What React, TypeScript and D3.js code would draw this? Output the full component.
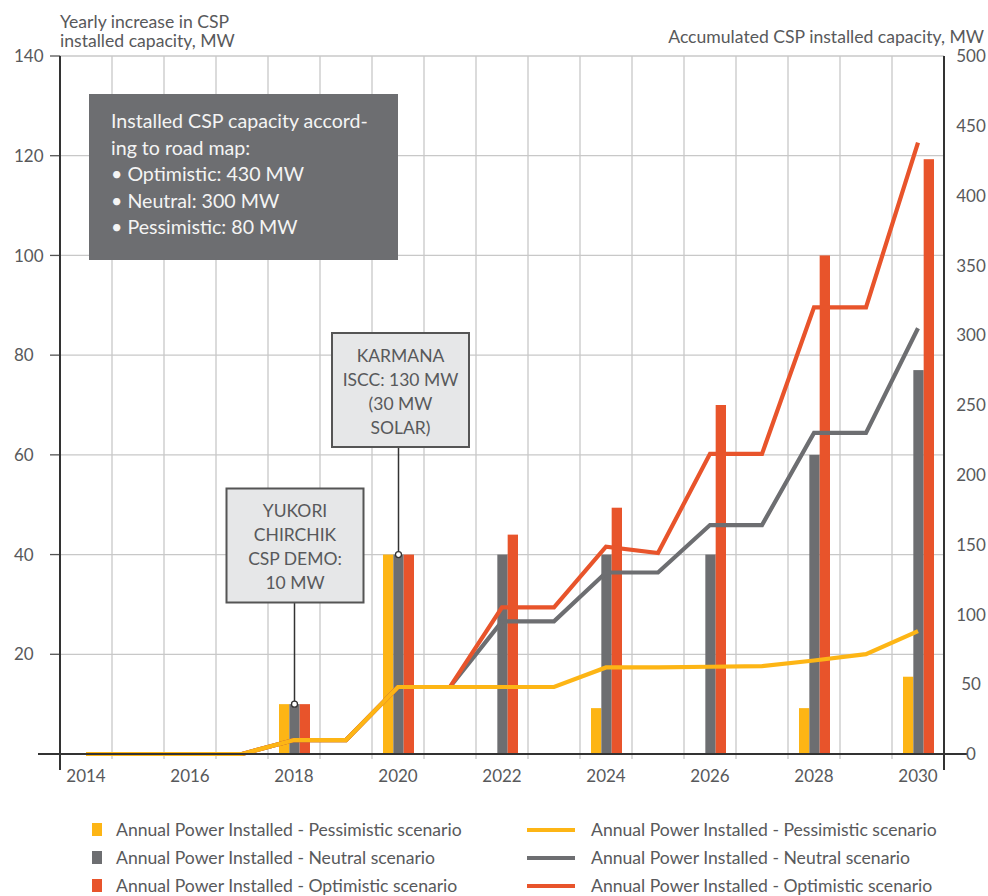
import React from "react";
import * as d3 from "d3";

// Years on the x axis
const years = [2014, 2015, 2016, 2017, 2018, 2019, 2020, 2021, 2022, 2023, 2024, 2025, 2026, 2027, 2028, 2029, 2030];

// Yearly increase, MW (left axis, bars)
const pessimisticAnnual = [0, 0, 0, 0, 10, 0, 40, 0, 0, 0, 9.2, 0, 0, 0, 9.2, 0, 15.5];
const neutralAnnual = [0, 0, 0, 0, 10, 0, 40, 0, 40, 0, 40, 0, 40, 0, 60, 0, 77];
const optimisticAnnual = [0, 0, 0, 0, 10, 0, 40, 0, 44, 0, 49.4, 0, 70, 0, 100, 0, 119.3];

// Accumulated capacity, MW (right axis, lines)
const pessimisticTotal = [0, 0, 0, 0, 10, 10, 48, 48, 48, 48, 62, 62, 62.5, 63, 67, 71.5, 88];
const neutralTotal = [0, 0, 0, 0, 10, 10, 48, 48, 95, 95, 130, 130, 164, 164, 230, 230, 305];
const optimisticTotal = [0, 0, 0, 0, 10, 10, 48, 48, 105, 105, 148.5, 144, 215, 215, 320, 320, 438];

const leftTicks = [20, 40, 60, 80, 100, 120, 140];
const rightTicks = [0, 50, 100, 150, 200, 250, 300, 350, 400, 450, 500];
const yearLabels = [2014, 2016, 2018, 2020, 2022, 2024, 2026, 2028, 2030];

const roadMapLines = [
  "Installed CSP capacity accord-",
  "ing to road map:",
  "\u2022 Optimistic: 430 MW",
  "\u2022 Neutral: 300 MW",
  "\u2022 Pessimistic: 80 MW",
];
const karmanaLines = ["KARMANA", "ISCC: 130 MW", "(30 MW", "SOLAR)"];
const yukoriLines = ["YUKORI", "CHIRCHIK", "CSP DEMO:", "10 MW"];

const legendBars = [
  "Annual Power Installed - Pessimistic scenario",
  "Annual Power Installed - Neutral scenario",
  "Annual Power Installed - Optimistic scenario",
];
const legendLines = [
  "Annual Power Installed - Pessimistic scenario",
  "Annual Power Installed - Neutral scenario",
  "Annual Power Installed - Optimistic scenario",
];

const YELLOW = "#fdb515";
const GREY = "#6d6e71";
const RED = "#e8542b";
const TEXT = "#58595b";
const FONT = "Lato, 'Open Sans', sans-serif";

const W = 988;
const H = 896;
const left = 60;
const right = 944;
const top = 56;
const bottom = 754;

export default function App() {
  const x = d3.scaleBand<number>().domain(years).range([left, right]).padding(0);
  const yL = d3.scaleLinear().domain([0, 140]).range([bottom, top]);
  const yR = d3.scaleLinear().domain([0, 500]).range([bottom, top]);
  const sub = d3
    .scaleBand<string>()
    .domain(["p", "n", "o"])
    .range([-15, 16])
    .padding(0);
  const cx = (yr: number) => (x(yr) as number) + x.bandwidth() / 2;

  const barSeries = [
    { key: "p", values: pessimisticAnnual, color: YELLOW },
    { key: "n", values: neutralAnnual, color: GREY },
    { key: "o", values: optimisticAnnual, color: RED },
  ];
  const lineSeries = [
    { values: neutralTotal, color: GREY },
    { values: optimisticTotal, color: RED },
    { values: pessimisticTotal, color: YELLOW },
  ];
  const line = d3
    .line<number>()
    .x((_, i) => cx(years[i]))
    .y((v) => yR(v));

  const edges = d3.range(years.length + 1).map((i) => left + i * x.bandwidth());

  // annotation anchor points on the neutral bars
  const yukoriX = cx(2018) + (sub("n") as number) + sub.bandwidth() / 2;
  const yukoriY = yL(neutralAnnual[years.indexOf(2018)]);
  const karmanaX = cx(2020) + (sub("n") as number) + sub.bandwidth() / 2;
  const karmanaY = yL(neutralAnnual[years.indexOf(2020)]);

  return (
    <svg
      width={W}
      height={H}
      style={{ position: "absolute", left: 0, top: 0, background: "#fff" }}
      fontFamily={FONT}
    >
      {/* grid */}
      <g stroke="#c8c8c8" strokeWidth={1.3}>
        {leftTicks.map((t) => (
          <line key={"h" + t} x1={left} x2={right} y1={yL(t)} y2={yL(t)} />
        ))}
        {edges.slice(1, -1).map((e) => (
          <line key={"v" + e} x1={e} x2={e} y1={top} y2={bottom + 5} />
        ))}
      </g>
      {/* left ticks */}
      <g stroke="#555" strokeWidth={1.3}>
        {leftTicks.map((t) => (
          <line key={"lt" + t} x1={left - 10} x2={left} y1={yL(t)} y2={yL(t)} />
        ))}
      </g>

      {/* bars */}
      {barSeries.map((s) =>
        s.values.map((v, i) =>
          v > 0 ? (
            <rect
              key={s.key + i}
              x={cx(years[i]) + (sub(s.key) as number)}
              width={sub.bandwidth()}
              y={yL(v)}
              height={bottom - yL(v)}
              fill={s.color}
            />
          ) : null
        )
      )}

      {/* accumulated lines */}
      {lineSeries.map((s, i) => (
        <path
          key={"l" + i}
          d={line(s.values) as string}
          fill="none"
          stroke={s.color}
          strokeWidth={4.2}
          strokeLinejoin="miter"
        />
      ))}

      {/* axes */}
      <g stroke="#333" strokeWidth={2}>
        <line x1={left} x2={left} y1={top} y2={770} />
        <line x1={right} x2={right} y1={top} y2={770} />
        <line x1={38} x2={967} y1={bottom} y2={bottom} />
      </g>

      {/* axis labels */}
      <g fill={TEXT} fontSize={17}>
        {leftTicks.map((t) => (
          <text key={"ll" + t} x={14} y={yL(t)} dy="0.36em">
            {t}
          </text>
        ))}
        {rightTicks.map((t) => (
          <text key={"rl" + t} x={971} y={yR(t)} dy="0.36em" textAnchor="middle">
            {t}
          </text>
        ))}
        {yearLabels.map((yr) => (
          <text key={"yl" + yr} x={cx(yr)} y={782} textAnchor="middle">
            {yr}
          </text>
        ))}
      </g>
      <g fill={TEXT} fontSize={17.6}>
        <text x={60} y={28}>Yearly increase in CSP</text>
        <text x={60} y={47}>installed capacity, MW</text>
        <text x={984} y={43} textAnchor="end">
          Accumulated CSP installed capacity, MW
        </text>
      </g>

      {/* road map box */}
      <rect x={89} y={94} width={309} height={166} fill={GREY} />
      <g fill="#f4f4f4" fontSize={19.6}>
        {roadMapLines.map((t, i) => (
          <text key={"rm" + i} x={111} y={128 + i * 26.6}>
            {t}
          </text>
        ))}
      </g>

      {/* annotations */}
      <line x1={yukoriX} x2={yukoriX} y1={602} y2={yukoriY} stroke="#333" strokeWidth={1.5} />
      <line x1={karmanaX} x2={karmanaX} y1={446} y2={karmanaY} stroke="#333" strokeWidth={1.5} />
      <circle cx={yukoriX} cy={yukoriY} r={3} fill="#fff" stroke="#333" strokeWidth={1.3} />
      <circle cx={karmanaX} cy={karmanaY} r={3} fill="#fff" stroke="#333" strokeWidth={1.3} />

      <rect x={332} y={333} width={137} height={114} fill="#e6e7e8" stroke="#555" strokeWidth={2} />
      <g fill={TEXT} fontSize={17.5} textAnchor="middle">
        {karmanaLines.map((t, i) => (
          <text key={"k" + i} x={400.5} y={362 + i * 24}>
            {t}
          </text>
        ))}
      </g>
      <rect x={226.5} y={488.5} width={137} height={114} fill="#e6e7e8" stroke="#555" strokeWidth={2} />
      <g fill={TEXT} fontSize={17.5} textAnchor="middle">
        {yukoriLines.map((t, i) => (
          <text key={"y" + i} x={295} y={517 + i * 24}>
            {t}
          </text>
        ))}
      </g>

      {/* legend */}
      <g fontSize={17.6} fill={TEXT}>
        {legendBars.map((t, i) => (
          <g key={"lb" + i} transform={`translate(0, ${830 + i * 28})`}>
            <rect x={92} y={-7} width={10} height={13} fill={barSeries[i].color} />
            <text x={116} dy="0.35em">
              {t}
            </text>
          </g>
        ))}
        {legendLines.map((t, i) => (
          <g key={"ll" + i} transform={`translate(0, ${830 + i * 28})`}>
            <line x1={527} x2={575} y1={0} y2={0} stroke={barSeries[i].color} strokeWidth={4} />
            <text x={591} dy="0.35em">
              {t}
            </text>
          </g>
        ))}
      </g>
    </svg>
  );
}
